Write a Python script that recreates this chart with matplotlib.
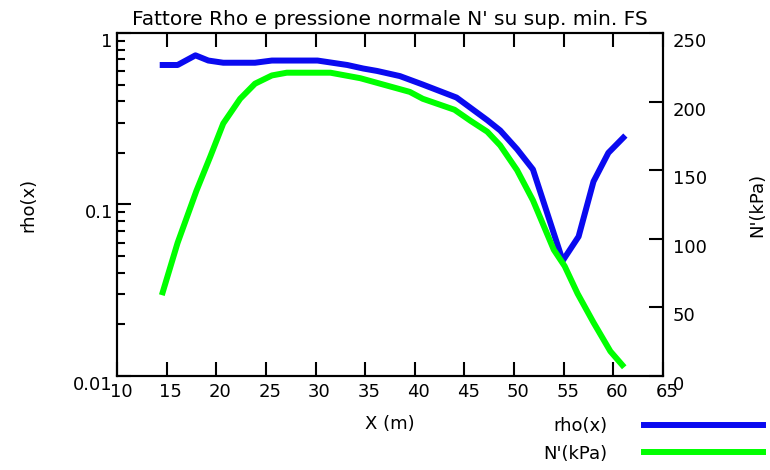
import matplotlib
matplotlib.use('Agg')
import matplotlib.pyplot as plt
from matplotlib.ticker import FixedLocator, FixedFormatter, LogLocator, NullFormatter
from matplotlib.transforms import ScaledTranslation

plt.rcParams['font.family'] = ['DejaVu Sans']

# dati
x_rho = [14.6, 16.1, 17.9, 19.2, 20.7, 23.9, 25.6, 30.2, 33.2, 34.8, 36.2, 38.5,
         40.8, 44.2, 47.3, 48.6, 50.3, 51.9, 54.9, 56.5, 58.0, 59.5, 61.0]
rho = [0.65, 0.65, 0.74, 0.69, 0.67, 0.67, 0.69, 0.69, 0.65, 0.62, 0.60, 0.56,
       0.50, 0.42, 0.31, 0.27, 0.21, 0.16, 0.047, 0.065, 0.136, 0.20, 0.245]

x_n = [14.6, 16.1, 18.0, 19.4, 20.7, 22.4, 23.9, 25.6, 27.1, 31.5, 34.5, 36.5,
       39.5, 40.8, 44.0, 45.6, 47.3, 48.6, 50.3, 51.9, 54.0, 55.1, 56.4, 58.0,
       59.7, 60.9]
n_kpa = [61, 97, 135, 160, 184, 202, 213, 219, 221, 221, 217, 213,
         207, 202, 194, 186, 178, 168, 150, 128, 92, 80, 60, 39, 18, 8]

x_ticks = [10, 15, 20, 25, 30, 35, 40, 45, 50, 55, 60, 65]
rho_ticks = [0.01, 0.1, 1]
rho_labels = ['0.01', '0.1', '1']
n_ticks = [0, 50, 100, 150, 200, 250]

fs = 13

fig = plt.figure(figsize=(7.7, 4.7), dpi=100)
ax = fig.add_axes([0.152, 0.200, 0.709, 0.730])
ax2 = ax.twinx()

l1, = ax.plot(x_rho, rho, color='#0a0af0', lw=4.3, label='rho(x)')
l2, = ax2.plot(x_n, n_kpa, color='#00ff00', lw=4.3, label="N'(kPa)")

ax.set_xlim(10, 65)
ax.set_yscale('log')
ax.set_ylim(0.01, 1)
ax2.set_ylim(0, 250)

ax.xaxis.set_major_locator(FixedLocator(x_ticks))
ax.yaxis.set_major_locator(FixedLocator(rho_ticks))
ax.yaxis.set_major_formatter(FixedFormatter(rho_labels))
ax.yaxis.set_minor_locator(LogLocator(base=10, subs=range(2, 10)))
ax.yaxis.set_minor_formatter(NullFormatter())
ax2.yaxis.set_major_locator(FixedLocator(n_ticks))

ax.tick_params(axis='x', direction='in', top=True, length=10, width=1.5,
               labelsize=fs, pad=5)
ax.tick_params(axis='y', which='major', direction='in', length=10, width=1.5,
               labelsize=fs, pad=3)
ax.tick_params(axis='y', which='minor', direction='in', length=6, width=1.5)
ax2.tick_params(axis='y', direction='in', length=10, width=1.5, labelsize=fs, pad=7)

plt.setp(ax.get_yticklabels(), va='top')
plt.setp(ax2.get_yticklabels(), va='top')
shift = ScaledTranslation(0.04, 0, fig.dpi_scale_trans)
for lab in ax.get_xticklabels():
    lab.set_transform(lab.get_transform() + shift)

for a in (ax, ax2):
    for s in a.spines.values():
        s.set_linewidth(1.5)

ax.set_title("Fattore Rho e pressione normale N' su sup. min. FS", fontsize=14.5, pad=6)
ax.set_xlabel('X (m)', fontsize=fs, labelpad=10)
ax.set_ylabel('rho(x)', fontsize=fs, labelpad=26)
ax2.set_ylabel("N'(kPa)", fontsize=fs, rotation=90, labelpad=30)

fig.legend(handles=[l1, l2], loc='lower right', bbox_to_anchor=(1.0, 0.0),
           frameon=False, markerfirst=False, fontsize=fs, handlelength=6.6,
           handletextpad=2.0, labelspacing=0.55, borderaxespad=0.0)

fig.savefig('out.png', dpi=100)
